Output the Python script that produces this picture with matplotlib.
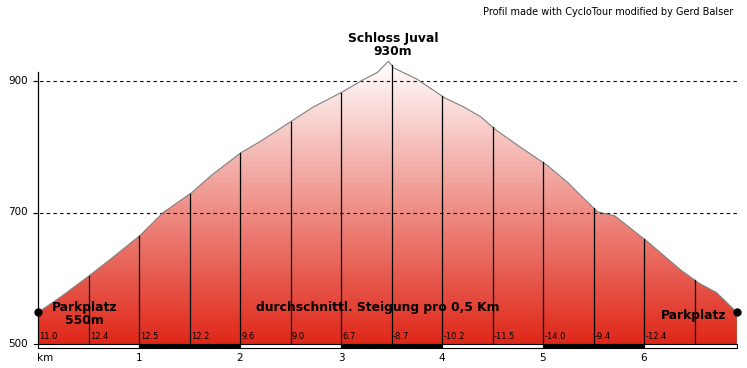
import numpy as np
import matplotlib
matplotlib.use("Agg")
import matplotlib.pyplot as plt
from matplotlib.colors import LinearSegmentedColormap
from matplotlib.patches import Polygon, Rectangle

# ---- data ----
km = [0.0, 0.22, 0.50, 0.71, 1.01, 1.24, 1.52, 1.72, 2.01, 2.20, 2.51, 2.72,
      3.02, 3.22, 3.36, 3.47, 3.52, 3.75, 4.03, 4.21, 4.38, 4.53, 4.77, 5.04, 5.25,
      5.34, 5.54, 5.71, 6.04, 6.36, 6.54, 6.72, 6.92]
elev = [548, 571, 603, 628, 665, 700, 730, 757, 791, 808, 839, 860,
        884, 902, 913, 930, 920, 903, 874, 861, 846, 826, 800, 772, 745,
        731, 701, 695, 655, 613, 593, 578, 548]
slopes = ["11.0", "12.4", "12.5", "12.2", "9.6", "9.0", "6.7", "-8.7", "-10.2",
          "-11.5", "-14.0", "-9.4", "-12.4"]
km_ticks = [1, 2, 3, 4, 5, 6]
elev_ticks = [500, 700, 900]

# ---- geometry helpers ----
W, H = 747, 368
PX_PER_KM = 101.0
PX_PER_M = 0.6575
x0_px, y0_px = 38, 344
xmax = (737 - 38) / PX_PER_KM
ytop = 500 + (y0_px - 0) / PX_PER_M

fig = plt.figure(figsize=(W / 100, H / 100), dpi=100)
ax = fig.add_axes([x0_px / W, (H - y0_px) / H, (737 - 38) / W, y0_px / H])
ax.set_xlim(0, xmax)
ax.set_ylim(500, ytop)
ax.axis("off")

km_a = np.array(km)
el_a = np.array(elev)

# gradient fill clipped to profile
cmap = LinearSegmentedColormap.from_list("g", ["#df2718", "#ffffff"])
grad = np.linspace(0, 1, 256).reshape(-1, 1)
im = ax.imshow(grad, cmap=cmap, origin="lower", aspect="auto",
               extent=[0, xmax, 500, max(elev)], zorder=1)
poly = Polygon(np.column_stack([np.r_[km_a, km_a[-1], km_a[0]],
                                np.r_[el_a, 500, 500]]),
               closed=True, facecolor="none", edgecolor="none")
ax.add_patch(poly)
im.set_clip_path(poly)

# profile outline
ax.plot(km_a, el_a, color="#808080", lw=0.8, zorder=3)

# dashed grid lines
for e in [700, 900]:
    ax.plot([-0.05, xmax], [e, e], color="black", lw=0.8,
            linestyle=(0, (3, 3)), zorder=2, clip_on=False)

# left axis line
ax.plot([0, 0], [500, 914], color="black", lw=0.9, zorder=4, clip_on=False)

# half-km vertical lines
for i in range(1, 14):
    xk = i * 0.5
    top = np.interp(xk, km_a, el_a)
    ax.plot([xk, xk], [500, top], color="black", lw=0.9, zorder=4)

# teal line at end
ax.plot([km_a[-1], km_a[-1]], [500, el_a[-1]], color="#108080", lw=0.9, zorder=4)

# slope labels
for i, s in enumerate(slopes):
    ax.text(i * 0.5 + 0.012, 511, s, fontsize=6, color="black",
            ha="left", va="center", zorder=5, family="DejaVu Sans")

# km scale bar
bar_h = 4 / PX_PER_M
segs = list(range(0, 7))
for i, s in enumerate(segs):
    e = min(s + 1, xmax)
    ax.add_patch(Rectangle((s, 500 - bar_h), e - s, bar_h,
                           facecolor="black" if i % 2 else "white",
                           edgecolor="black", lw=0.8, clip_on=False, zorder=5))

# km tick labels
ylab = 500 - 14 / PX_PER_M
ax.text(7 / PX_PER_KM, ylab, "km", fontsize=7.5, ha="center", va="center", clip_on=False)
for k in km_ticks:
    ax.text(k, ylab, str(k), fontsize=7.5, ha="center", va="center", clip_on=False)

# elevation tick labels
for e in elev_ticks:
    ax.text(-10 / PX_PER_KM, e, str(e), fontsize=7.5, ha="right", va="center", clip_on=False)
    ax.plot([-4 / PX_PER_KM, 0], [e, e], color="black", lw=0.8, clip_on=False)

# markers
ax.plot([km_a[0], km_a[-1]], [el_a[0], el_a[-1]], "o", color="black",
        markersize=5, clip_on=False, zorder=6)

bold = dict(fontsize=8.9, fontweight="bold", color="black", zorder=7)
ax.text(0.46, 556, "Parkplatz", ha="center", va="center", **bold)
ax.text(0.46, 535, "550m", ha="center", va="center", **bold)
ax.text(3.366, 555, "durchschnittl. Steigung pro 0,5 Km", ha="center", va="center", **bold)
ax.text(6.82, 543, "Parkplatz", ha="right", va="center", **bold)
ax.text(3.515, 965, "Schloss Juval", ha="center", va="center", clip_on=False, **bold)
ax.text(3.515, 945.5, "930m", ha="center", va="center", clip_on=False, **bold)

fig.text(733 / W, 1 - 12 / H, "Profil made with CycloTour modified by Gerd Balser",
         fontsize=7, ha="right", va="center")

fig.savefig("out.png", dpi=100, facecolor="white")
